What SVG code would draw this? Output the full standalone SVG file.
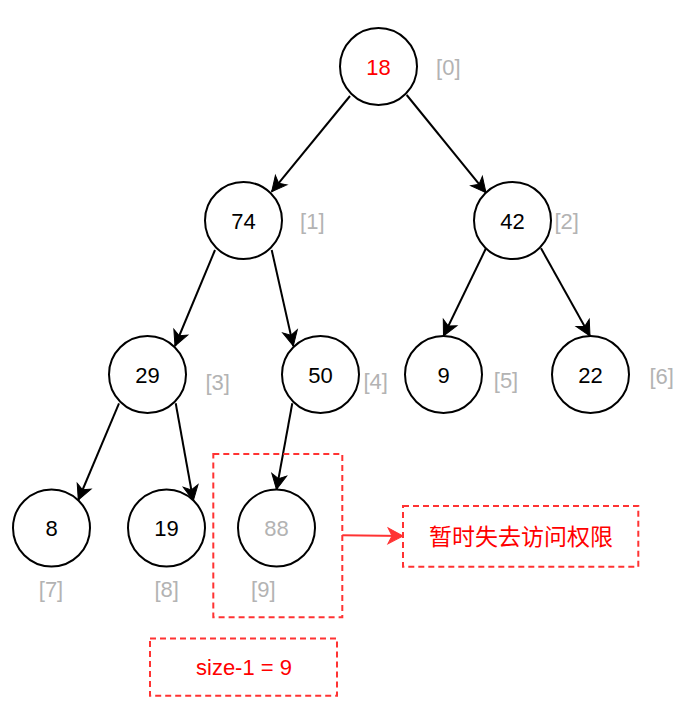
<svg xmlns="http://www.w3.org/2000/svg" width="687" height="709" viewBox="0 0 687 709">
<style>
  .node circle { fill: #FFFFFF; stroke: #000000; stroke-width: 2; }
  .val { font-family: "Liberation Sans", Arial, sans-serif; font-size: 22px; fill: #000000; text-anchor: middle; }
  .idx { font-family: "Liberation Sans", Arial, sans-serif; font-size: 22px; fill: #B3B3B3; text-anchor: middle; }
  .edge { stroke: #000000; stroke-width: 2; fill: none; marker-end: url(#arrow); }
  .redEdge { stroke: #FF3333; stroke-width: 2; fill: none; marker-end: url(#arrowRed); }
  .dash { fill: none; stroke: #FF3333; stroke-width: 2; stroke-dasharray: 6 4; }
  .note { font-family: "Liberation Sans", Arial, "Noto Sans CJK SC", sans-serif; font-size: 22px; fill: #FF0000; text-anchor: middle; }
</style>
<defs>
  <marker id="arrow" markerUnits="userSpaceOnUse" markerWidth="20" markerHeight="20" viewBox="-1 -10 18 20" refX="15" refY="0" orient="auto">
    <path d="M0,-7.5 L15,0 L0,7.5 L4,0 Z" fill="#000000" stroke="#000000" stroke-width="1"/>
  </marker>
  <marker id="arrowRed" markerUnits="userSpaceOnUse" markerWidth="20" markerHeight="20" viewBox="-1 -10 18 20" refX="15" refY="0" orient="auto">
    <path d="M0,-8 L15,0 L0,8 L4,0 Z" fill="#FF3333" stroke="#FF3333" stroke-width="1"/>
  </marker>
</defs>
<rect width="687" height="709" fill="#FFFFFF"/>

<g id="connectors">
  <line class="edge" x1="350" y1="96" x2="271.7" y2="191.7"/>
  <line class="edge" x1="406.7" y1="95" x2="486" y2="192.7"/>
  <line class="edge" x1="215" y1="250" x2="175" y2="346"/>
  <line class="edge" x1="271.7" y1="250" x2="293.3" y2="346"/>
  <line class="edge" x1="486" y1="248.3" x2="443.5" y2="336"/>
  <line class="edge" x1="541" y1="248.3" x2="590" y2="336"/>
  <line class="edge" x1="119" y1="403.3" x2="78.3" y2="500"/>
  <line class="edge" x1="175.7" y1="403.3" x2="193.3" y2="500.7"/>
  <line class="edge" x1="292.3" y1="403.3" x2="276.5" y2="489.5"/>
  <line class="redEdge" x1="342.3" y1="535.3" x2="403" y2="536"/>
</g>

<g id="node-0" class="node"><circle cx="378.5" cy="66.5" r="38.5"/><text class="val" x="378.5" y="74.5" style="fill:#FF0000">18</text></g>
<g id="node-1" class="node"><circle cx="243.5" cy="220.5" r="38.5"/><text class="val" x="243.5" y="228.5">74</text></g>
<g id="node-2" class="node"><circle cx="512.5" cy="220.5" r="38.5"/><text class="val" x="512.5" y="228.5">42</text></g>
<g id="node-3" class="node"><circle cx="147.5" cy="374.5" r="38.5"/><text class="val" x="147.5" y="382.5">29</text></g>
<g id="node-4" class="node"><circle cx="320.5" cy="374.5" r="38.5"/><text class="val" x="320.5" y="382.5">50</text></g>
<g id="node-5" class="node"><circle cx="443.5" cy="374.5" r="38.5"/><text class="val" x="443.5" y="382.5">9</text></g>
<g id="node-6" class="node"><circle cx="590.5" cy="374.5" r="38.5"/><text class="val" x="590.5" y="382.5">22</text></g>
<g id="node-7" class="node"><circle cx="51.5" cy="528" r="38.5"/><text class="val" x="51.5" y="536">8</text></g>
<g id="node-8" class="node"><circle cx="166.5" cy="528" r="38.5"/><text class="val" x="166.5" y="536">19</text></g>
<g id="node-9" class="node"><circle cx="276.5" cy="528" r="38.5"/><text class="val" x="276.5" y="536" style="fill:#B3B3B3">88</text></g>

<g id="indices">
  <text class="idx" x="448.3" y="75.3">[0]</text>
  <text class="idx" x="312.3" y="228.7">[1]</text>
  <text class="idx" x="566.7" y="228.7">[2]</text>
  <text class="idx" x="217.7" y="389.7">[3]</text>
  <text class="idx" x="375.7" y="389">[4]</text>
  <text class="idx" x="506" y="388">[5]</text>
  <text class="idx" x="661.7" y="384">[6]</text>
  <text class="idx" x="51" y="597">[7]</text>
  <text class="idx" x="166.7" y="597">[8]</text>
  <text class="idx" x="263.3" y="597">[9]</text>
</g>

<g id="hidden-box"><rect class="dash" x="213.3" y="454" width="129" height="163.3"/></g>
<g id="note-access"><rect class="dash" x="403" y="506" width="235.3" height="60.7"/><text class="note" x="521" y="544.5" style="font-size:23px">暂时失去访问权限</text></g>
<g id="note-size"><rect class="dash" x="150" y="638.5" width="187" height="57.2"/><text class="note" x="244" y="675">size-1 = 9</text></g>
</svg>
